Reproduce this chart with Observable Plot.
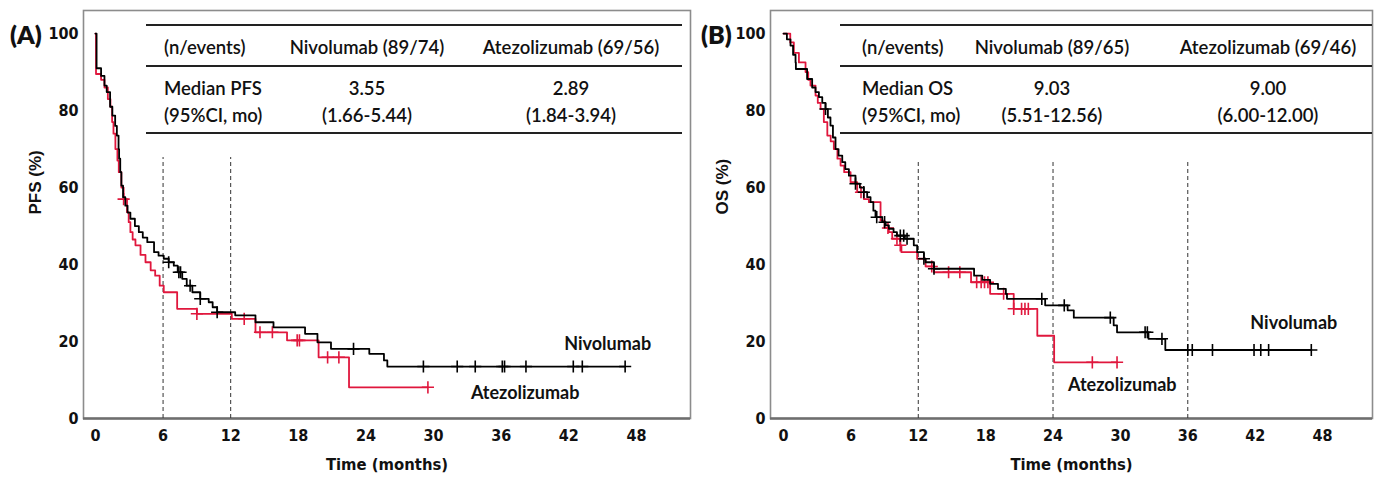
<!DOCTYPE html>
<html>
<head>
<meta charset="utf-8">
<script src="https://cdn.jsdelivr.net/npm/d3@7"></script>
<script src="https://cdn.jsdelivr.net/npm/@observablehq/plot@0.6"></script>
<style>
  html, body { margin: 0; padding: 0; background: #fff; }
  #root { position: relative; width: 1382px; height: 483px; overflow: hidden; background: #fff; }
  .panel { position: absolute; top: 0; }
  .tag { position: absolute; font-family: Lato, sans-serif; font-weight: 800; font-size: 25px; color: #111; line-height: 1; }
  .tbl { position: absolute; font-family: Lato, sans-serif; font-weight: 600; font-size: 18.5px; color: #111; }
  .tbl .hl { position: absolute; left: 0; right: 0; height: 0; border-top: 2px solid #222; }
  .tbl .cell { position: absolute; white-space: nowrap; line-height: 1; transform: translateY(-50%); }
  .tbl .c { transform: translate(-50%, -50%); }
</style>
</head>
<body>
<div id="root"></div>
<script>
// ---------------- DATA ----------------
const xTicks = [0, 6, 12, 18, 24, 30, 36, 42, 48];
const yTicks = [0, 20, 40, 60, 80, 100];
const landmarksA = [6, 12];
const landmarksB = [12, 24, 36];

// PFS, Nivolumab (black): step times (months) and survival (%)
const pfsNivoT = [0, 0.1, 0.5, 0.8, 1.0, 1.3, 1.5, 1.75, 1.9, 2.05, 2.1, 2.2, 2.3, 2.45, 2.65, 2.85, 3.1, 3.5, 3.85, 4.2, 4.6, 5.2, 5.6, 6.06, 6.5, 6.95, 7.3, 7.7, 8.1, 8.6, 9.3, 10.05, 10.4, 10.8, 12.4, 14.2, 15.8, 18.6, 19.7, 20.9, 24.3, 25.6, 25.9, 47.0];
const pfsNivoS = [100, 91, 89, 86.5, 84.8, 81, 78.7, 76, 73.5, 70, 67.5, 64, 60.5, 57.5, 55.3, 53.5, 51.9, 50, 48.4, 47, 45.8, 43.2, 42.3, 41.5, 40.6, 39.7, 38, 36.3, 34.5, 32.8, 31.1, 30.2, 28.9, 27.6, 26.8, 25, 23.7, 22, 19.8, 18.1, 16.8, 15.1, 13.5, 13.5];
const pfsNivoCens = [6.5, 7.4, 7.55, 8.4, 9.3, 10.8, 22.9, 29.1, 32.1, 33.7, 36.1, 36.3, 38.2, 42.4, 43.2, 47.0];

// PFS, Atezolizumab (red)
const pfsAtezoT = [0, 0.05, 0.5, 0.8, 1.1, 1.33, 1.48, 1.6, 1.77, 1.95, 2.07, 2.3, 2.5, 2.8, 2.95, 3.1, 3.3, 3.55, 4.0, 4.44, 4.9, 5.3, 5.7, 6.06, 7.25, 9.0, 12.1, 14.2, 17.0, 19.8, 22.5, 29.5];
const pfsAtezoS = [100, 89.5, 88, 86, 83, 81, 77, 74, 70, 67, 64, 60, 57, 53.6, 51, 48.4, 46.5, 45, 42.5, 40.6, 38.5, 37.1, 34.5, 32.8, 28.5, 27.2, 25.9, 22.4, 20.3, 15.9, 8.1, 8.1];
const pfsAtezoCens = [2.5, 9.0, 13.2, 14.6, 15.7, 17.9, 18.1, 20.6, 21.6, 29.5];

// OS, Nivolumab (black)
const osNivoT = [0, 0.3, 0.62, 0.85, 1.07, 1.1, 2.1, 2.55, 2.85, 3.15, 3.45, 3.74, 3.95, 4.18, 4.4, 4.63, 4.9, 5.23, 5.5, 5.82, 6.41, 6.8, 7.15, 7.45, 7.75, 8.0, 8.19, 8.79, 9.1, 9.38, 9.8, 10.1, 10.8, 11.6, 11.9, 12.5, 12.65, 13.4, 16.97, 17.7, 18.4, 19.1, 19.8, 19.9, 23.3, 25.3, 25.85, 29.4, 29.7, 32.5, 34.0, 47.0];
const osNivoS = [100, 98.5, 96.9, 94.5, 92.5, 90.8, 88.2, 86, 84.8, 83.5, 82, 80.4, 78.2, 76.1, 73, 70, 68.3, 66.6, 64.8, 63.1, 61, 60, 58.8, 57.5, 56.2, 54, 52.3, 51, 50.2, 49.3, 48.4, 47.5, 46.7, 45, 43.2, 41.5, 40.6, 38.9, 37.1, 36, 35, 33.7, 32.4, 31.1, 29.4, 28.1, 26.2, 24.2, 22.4, 20.7, 17.8, 17.8];
const osNivoCens = [3.74, 6.41, 7.15, 8.3, 9.0, 10.4, 10.7, 11.0, 12.5, 13.4, 23.0, 25.0, 29.1, 32.2, 32.4, 33.7, 36.0, 36.4, 38.2, 41.9, 42.5, 43.2, 47.0];

// OS, Atezolizumab (red)
const osAtezoT = [0, 0.6, 0.92, 1.37, 1.96, 2.2, 2.4, 2.85, 3.05, 3.3, 3.59, 3.9, 4.2, 4.48, 4.8, 5.08, 5.4, 5.97, 6.56, 7.15, 7.6, 8.64, 9.0, 9.38, 9.68, 10.4, 10.5, 11.9, 12.65, 13.4, 16.7, 18.4, 20.5, 22.6, 24.1, 29.7];
const osAtezoS = [100, 97.7, 95, 92.5, 90, 88, 86.5, 83.9, 82, 80.4, 77, 73.5, 72, 70, 67.5, 65.7, 64, 61.4, 58.8, 57, 56.2, 51.4, 49.5, 48.4, 46.7, 45, 43.2, 41.5, 39.5, 38, 35.4, 32.4, 28.5, 21.5, 14.6, 14.6];
const osAtezoCens = [6.9, 9.3, 10.1, 10.4, 13.2, 14.7, 15.7, 17.2, 17.6, 17.9, 18.2, 19.6, 20.5, 21.2, 21.5, 21.8, 27.5, 29.7];

// Table texts
const tableColsA = ["(n/events)", "Nivolumab (89/74)", "Atezolizumab (69/56)"];
const tableRowA1 = ["Median PFS", "3.55", "2.89"];
const tableRowA2 = ["(95%CI, mo)", "(1.66-5.44)", "(1.84-3.94)"];
const tableColsB = ["(n/events)", "Nivolumab (89/65)", "Atezolizumab (69/46)"];
const tableRowB1 = ["Median OS", "9.03", "9.00"];
const tableRowB2 = ["(95%CI, mo)", "(5.51-12.56)", "(6.00-12.00)"];

const seriesNames = ["Nivolumab", "Atezolizumab"];
const seriesColors = ["#000000", "#e0173d"];

// ---------------- HELPERS ----------------
const steps = (T, S) => T.map((t, i) => ({t, s: S[i]}));
const survAt = (st, t) => { let s = st[0].s; for (const p of st) { if (p.t <= t) s = p.s; else break; } return s; };
const cens = (st, C) => C.map(t => ({t, s: survAt(st, t)}));

const tickFont = "'Liberation Sans Narrow', 'Arial Narrow', 'DejaVu Sans Condensed', sans-serif";
const labelFont = "Lato, sans-serif";

function panel({width, marginLeft, xDomain, nivo, atezo, nivoC, atezoC, landmarks, landTop, yLabel, nivoLab, atezoLab}) {
  return Plot.plot({
    width, height: 483,
    marginLeft, marginRight: 10, marginTop: 10, marginBottom: 65,
    x: {domain: xDomain},
    y: {domain: [0, 106]},
    style: {background: "transparent", fontFamily: tickFont},
    marks: [
      Plot.frame({stroke: "#8c8c8c", strokeWidth: 1.6}),
      Plot.ruleY([0], {stroke: "#6e6e6e", strokeWidth: 2.4}),
      Plot.axisX(xTicks, {tickSize: 0, tickPadding: 11, fontSize: 16, fontWeight: "bold", fill: "#111", label: null}),
      Plot.axisY(yTicks, {tickSize: 0, tickPadding: 5, fontSize: 16, fontWeight: "bold", fill: "#111", label: null}),
      Plot.ruleX(landmarks, {y1: 0, y2: landTop, stroke: "#333", strokeWidth: 1, strokeDasharray: "4,3"}),
      Plot.line(atezo, {x: "t", y: "s", curve: "step-after", stroke: seriesColors[1], strokeWidth: 1.8}),
      Plot.dot(atezoC, {x: "t", y: "s", symbol: "plus", r: 4, stroke: seriesColors[1], strokeWidth: 1.6}),
      Plot.line(nivo, {x: "t", y: "s", curve: "step-after", stroke: seriesColors[0], strokeWidth: 1.8}),
      Plot.dot(nivoC, {x: "t", y: "s", symbol: "plus", r: 4, stroke: seriesColors[0], strokeWidth: 1.6}),
      Plot.text([nivo[nivo.length - 1]], {x: "t", y: "s", text: () => seriesNames[0], textAnchor: "end", dx: nivoLab[0], dy: nivoLab[1], fontFamily: labelFont, fontWeight: "bold", fontSize: 18, fill: "#111"}),
      Plot.text([atezo[atezo.length - 1]], {x: "t", y: "s", text: () => seriesNames[1], textAnchor: "start", dx: atezoLab[0], dy: atezoLab[1], fontFamily: labelFont, fontWeight: "bold", fontSize: 18, fill: "#111"}),
      Plot.text([yLabel], {frameAnchor: "left", dx: -48, rotate: -90, fontSize: 17, fontWeight: "bold", fontFamily: "'Liberation Sans', Arial, sans-serif", fill: "#111"}),
      Plot.text(["Time (months)"], {frameAnchor: "bottom", dy: 51, fontSize: 16.5, fontWeight: "bold", fontFamily: tickFont, fill: "#111"})
    ]
  });
}

const root = document.getElementById("root");

const pfsNivo = steps(pfsNivoT, pfsNivoS), pfsAtezo = steps(pfsAtezoT, pfsAtezoS);
const osNivo = steps(osNivoT, osNivoS), osAtezo = steps(osAtezoT, osAtezoS);

const A = panel({
  width: 700, marginLeft: 83, xDomain: [-1.06, 52.8],
  nivo: pfsNivo, atezo: pfsAtezo, nivoC: cens(pfsNivo, pfsNivoCens), atezoC: cens(pfsAtezo, pfsAtezoCens),
  landmarks: landmarksA, landTop: 67.8, yLabel: "PFS (%)", nivoLab: [26, -22], atezoLab: [43, 6]
});
const B = panel({
  width: 692, marginLeft: 80, xDomain: [-1.16, 52.45],
  nivo: osNivo, atezo: osAtezo, nivoC: cens(osNivo, osNivoCens), atezoC: cens(osAtezo, osAtezoCens),
  landmarks: landmarksB, landTop: 67, yLabel: "OS (%)", nivoLab: [26, -27], atezoLab: [-49, 23]
});

const pa = document.createElement("div"); pa.className = "panel"; pa.style.left = "0px"; pa.appendChild(A); root.appendChild(pa);
const pb = document.createElement("div"); pb.className = "panel"; pb.style.left = "690px"; pb.appendChild(B); root.appendChild(pb);

function tag(text, left, top) {
  const d = document.createElement("div"); d.className = "tag"; d.textContent = text;
  d.style.left = left + "px"; d.style.top = top + "px"; root.appendChild(d);
}
tag("(A)", 10, 22);
tag("(B)", 701, 22);

function table({left, width, cols, row1, row2, colLeft, colCenters}) {
  const t = document.createElement("div"); t.className = "tbl";
  t.style.left = left + "px"; t.style.top = "0px"; t.style.width = width + "px"; t.style.height = "140px";
  const lines = [25, 65.5, 133];
  for (const y of lines) { const l = document.createElement("div"); l.className = "hl"; l.style.top = (y - 1) + "px"; t.appendChild(l); }
  const rows = [[cols, 46.5], [row1, 88], [row2, 115]];
  for (const [r, y] of rows) {
    r.forEach((txt, i) => {
      const c = document.createElement("div");
      c.className = "cell" + (i > 0 ? " c" : "");
      c.textContent = txt;
      c.style.top = y + "px";
      c.style.left = (i === 0 ? colLeft : colCenters[i - 1]) + "px";
      t.appendChild(c);
    });
  }
  root.appendChild(t);
}
table({left: 146, width: 536, cols: tableColsA, row1: tableRowA1, row2: tableRowA2, colLeft: 18, colCenters: [221, 425]});
table({left: 840, width: 532, cols: tableColsB, row1: tableRowB1, row2: tableRowB2, colLeft: 22, colCenters: [212, 428]});
</script>
</body>
</html>
